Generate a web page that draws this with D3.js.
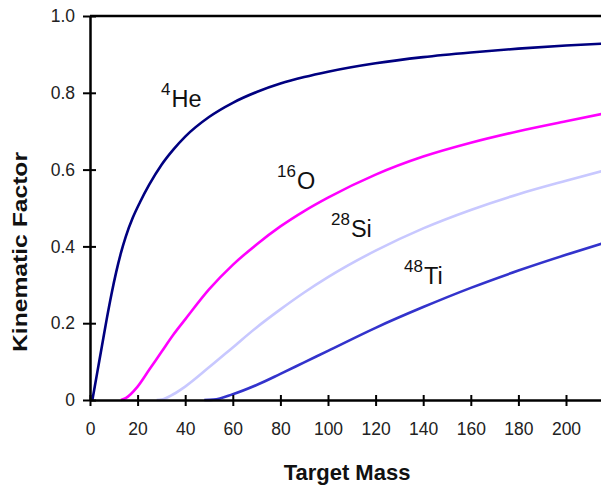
<!DOCTYPE html>
<html>
<head>
<meta charset="utf-8">
<script src="https://cdn.jsdelivr.net/npm/d3@7"></script>
<style>
  body { margin: 0; background: #fff; }
  svg { display: block; font-family: "Liberation Sans", Arial, sans-serif; }
</style>
</head>
<body>
<div id="plot"></div>
<script>
// Kinematic factor vs target mass

const heMass = [1, 3, 5, 7, 9, 11, 13, 15, 18, 21, 25, 30, 35, 40, 50, 60, 70, 80, 90, 100, 120, 140, 160, 180, 200, 215];
const heK    = [0, 0.07, 0.14, 0.21, 0.275, 0.333, 0.383, 0.425, 0.475, 0.515, 0.562, 0.612, 0.652, 0.686, 0.737, 0.774, 0.802, 0.824, 0.841, 0.855, 0.877, 0.893, 0.905, 0.915, 0.923, 0.928];

const oMass = [13, 15, 20, 25, 30, 35, 40, 50, 60, 70, 80, 90, 100, 120, 140, 160, 180, 200, 215];
const oK    = [0, 0.005, 0.035, 0.08, 0.125, 0.17, 0.21, 0.288, 0.352, 0.405, 0.452, 0.492, 0.527, 0.587, 0.634, 0.67, 0.70, 0.726, 0.745];

const siMass = [28, 30, 35, 40, 50, 60, 70, 80, 90, 100, 120, 140, 160, 180, 200, 215];
const siK    = [0, 0.001, 0.015, 0.035, 0.085, 0.137, 0.189, 0.236, 0.28, 0.32, 0.389, 0.447, 0.495, 0.536, 0.571, 0.596];

const tiMass = [48, 52, 60, 70, 80, 90, 100, 120, 140, 160, 180, 200, 215];
const tiK    = [0, 0.001, 0.015, 0.039, 0.068, 0.098, 0.128, 0.188, 0.242, 0.292, 0.337, 0.378, 0.407];

const xTicks = [0, 20, 40, 60, 80, 100, 120, 140, 160, 180, 200];
const yTicks = [0, 0.2, 0.4, 0.6, 0.8, 1.0];

const series = [
  {iso: "4",  el: "He", mass: heMass, k: heK, color: "#000080"},
  {iso: "16", el: "O",  mass: oMass,  k: oK,  color: "#ff00ff"},
  {iso: "28", el: "Si", mass: siMass, k: siK, color: "#c8c8ff"},
  {iso: "48", el: "Ti", mass: tiMass, k: tiK, color: "#3333cc"}
];
// label start x and baseline
const labelPos = [[161, 107], [277, 189], [331, 237], [404, 284]];

const width = 601, height = 487;

const svg = d3.select("#plot").append("svg")
  .attr("width", width)
  .attr("height", height);

const x = d3.scaleLinear().domain([0, 215]).range([90, 601.7]);
const y = d3.scaleLinear().domain([0, 1]).range([400, 16]);

const line = d3.line()
  .x(d => x(d[0]))
  .y(d => y(d[1]))
  .curve(d3.curveMonotoneX);

// curves
series.forEach(s => {
  svg.append("path")
    .datum(s.mass.map((m, i) => [m, s.k[i]]))
    .attr("fill", "none")
    .attr("stroke", s.color)
    .attr("stroke-width", 2.6)
    .attr("d", line);
});

// top frame line
svg.append("line")
  .attr("x1", x(0)).attr("x2", width)
  .attr("y1", y(1)).attr("y2", y(1))
  .attr("stroke", "#000").attr("stroke-width", 2.5);

const xAxis = svg.append("g")
  .attr("transform", `translate(0, ${y(0)})`)
  .call(d3.axisBottom(x).tickValues(xTicks).tickSize(6).tickSizeOuter(0).tickPadding(17));
xAxis.selectAll(".tick line").attr("y1", -5).attr("y2", 6);

const yAxis = svg.append("g")
  .attr("transform", `translate(${x(0)}, 0)`)
  .call(d3.axisLeft(y).tickValues(yTicks).tickSize(7).tickSizeOuter(0).tickPadding(8)
    .tickFormat(d => d === 0 ? "0" : d3.format(".1f")(d)));
yAxis.selectAll(".tick line").attr("x1", -7).attr("x2", 6);

svg.selectAll(".domain").attr("stroke", "#000").attr("stroke-width", 2.5);
svg.selectAll(".tick line").attr("stroke", "#000").attr("stroke-width", 2);
svg.selectAll(".tick text")
  .attr("font-family", "Liberation Sans, Arial, sans-serif")
  .attr("font-size", 17.5)
  .attr("fill", "#222");

// axis titles
svg.append("text")
  .attr("x", 347).attr("y", 480)
  .attr("text-anchor", "middle")
  .attr("font-weight", "bold")
  .attr("font-size", 22)
  .attr("fill", "#111")
  .text("Target Mass");

svg.append("text")
  .attr("transform", "translate(27, 252) rotate(-90)")
  .attr("text-anchor", "middle")
  .attr("font-weight", "bold")
  .attr("font-size", 20)
  .attr("textLength", 200)
  .attr("lengthAdjust", "spacingAndGlyphs")
  .attr("fill", "#111")
  .text("Kinematic Factor");

// curve labels
series.forEach((s, i) => {
  const t = svg.append("text")
    .attr("x", labelPos[i][0]).attr("y", labelPos[i][1])
    .attr("fill", "#111");
  t.append("tspan").attr("font-size", 17).attr("dy", -12).text(s.iso);
  t.append("tspan").attr("font-size", 23.5).attr("dx", 1).attr("dy", 12).text(s.el);
});
</script>
</body>
</html>
